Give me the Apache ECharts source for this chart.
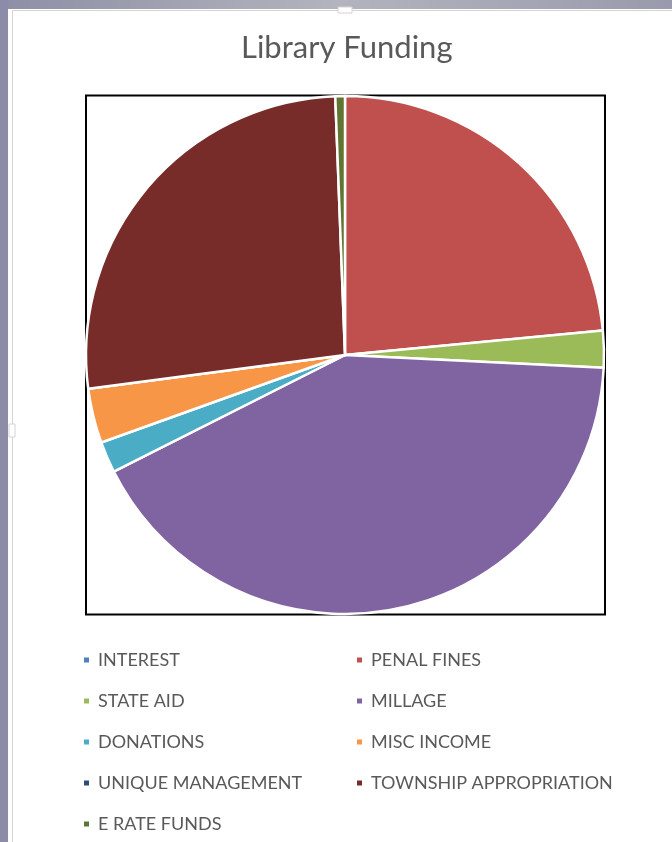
<!DOCTYPE html>
<html>
<head>
<meta charset="utf-8">
<script src="https://cdn.jsdelivr.net/npm/echarts@6/dist/echarts.min.js"></script>
<style>
html,body{margin:0;padding:0;background:#fff;}
#chart{width:672px;height:842px;}
</style>
</head>
<body>
<div id="chart"></div>
<script>
const categories = ['INTEREST','PENAL FINES','STATE AID','MILLAGE','DONATIONS','MISC INCOME','UNIQUE MANAGEMENT','TOWNSHIP APPROPRIATION','E RATE FUNDS'];
const values = [0, 23.5, 2.3, 41.8, 1.95, 3.4, 0, 26.5, 0.6];
const colors = ['#4F81BD','#C0504D','#9BBB59','#8064A2','#4BACC6','#F79646','#2C4D75','#772C2A','#5F7530'];
const legendLeft = ['INTEREST','STATE AID','DONATIONS','UNIQUE MANAGEMENT','E RATE FUNDS'];
const legendRight = ['PENAL FINES','MILLAGE','MISC INCOME','TOWNSHIP APPROPRIATION'];

const chart = echarts.init(document.getElementById('chart'));
const legendBase = {
  orient: 'vertical', top: 645, itemWidth: 7, itemHeight: 7, itemGap: 21,
  icon: 'rect',
  textStyle: {color: '#595959', fontSize: 18, lineHeight: 20, fontFamily: 'Lato', padding: [0, 0, 0, 3]},
  selectedMode: false
};
chart.setOption({
  animation: false,
  backgroundColor: '#fff',
  color: colors,
  title: {
    text: 'Library Funding', left: 236, top: 27,
    textStyle: {color: '#595959', fontSize: 31, fontWeight: 'normal', fontFamily: 'Lato'}
  },
  graphic: [
    {type: 'rect', shape: {x: 0, y: 0, width: 672, height: 9}, style: {fill: new echarts.graphic.LinearGradient(0,0,1,0,[{offset:0,color:'#8e8ea6'},{offset:0.5,color:'#b4b4be'},{offset:1,color:'#9a9aae'}])}, z: -1},
    {type: 'rect', shape: {x: 0, y: 0, width: 8, height: 842}, style: {fill: '#8c8ca8'}, z: -1},
    {type: 'rect', shape: {x: 12.5, y: 10.5, width: 670, height: 840}, style: {fill: 'none', stroke: '#d4d4d4', lineWidth: 1}, z: -1},
    {type: 'rect', shape: {x: 86, y: 95.5, width: 519, height: 519}, style: {fill: 'none', stroke: '#000', lineWidth: 2}, z: -1},
    {type: 'rect', shape: {x: 338, y: 7, width: 14, height: 6}, style: {fill: '#fff', stroke: '#d4d4d4', lineWidth: 1}, z: 0},
    {type: 'rect', shape: {x: 9, y: 424, width: 6, height: 13}, style: {fill: '#fff', stroke: '#d4d4d4', lineWidth: 1}, z: 0}
  ],
  legend: [
    Object.assign({left: 77, data: legendLeft}, legendBase),
    Object.assign({left: 350, data: legendRight}, legendBase)
  ],
  series: [{
    type: 'pie',
    center: [345, 355],
    radius: 259,
    startAngle: 90,
    clockwise: true,
    label: {show: false},
    labelLine: {show: false},
    itemStyle: {borderColor: '#fff', borderWidth: 2.5},
    emphasis: {disabled: true},
    data: categories.map((c, i) => ({name: c, value: values[i]}))
  }]
});
</script>
</body>
</html>
